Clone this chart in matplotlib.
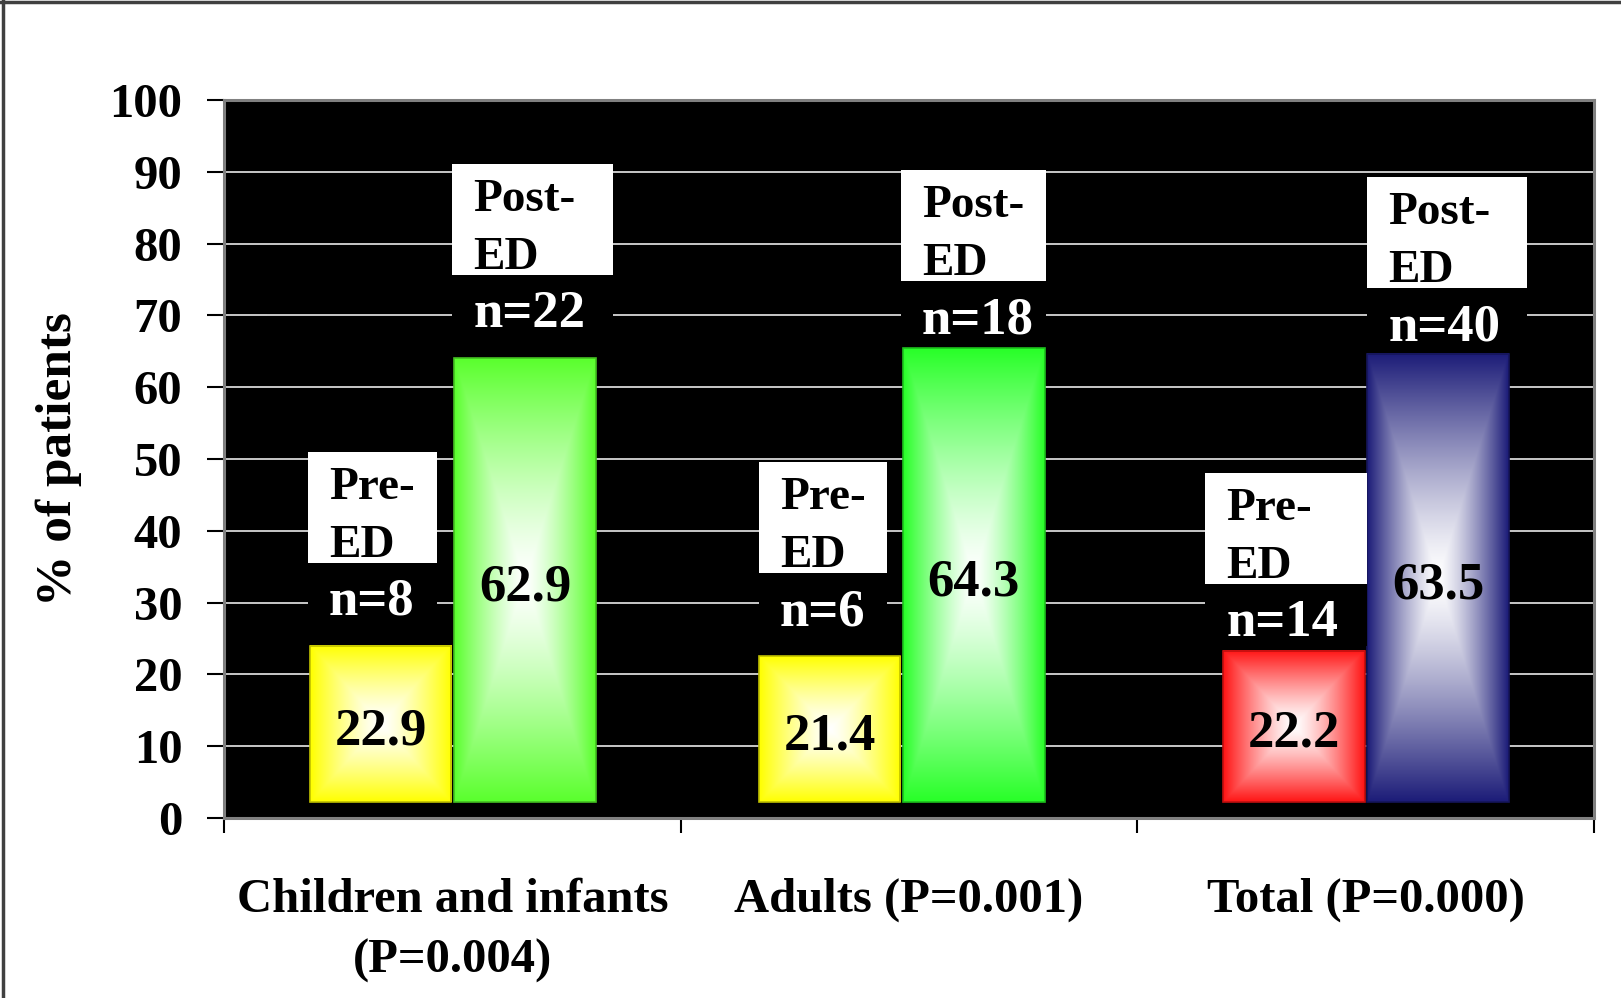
import numpy as np
import matplotlib
matplotlib.use("Agg")
import matplotlib.pyplot as plt
from matplotlib.patches import Rectangle
from matplotlib.lines import Line2D

# data
groups = ["Children and infants\n(P=0.004)", "Adults (P=0.001)", "Total (P=0.000)"]
pre_vals = [22.9, 21.4, 22.2]
post_vals = [62.9, 64.3, 63.5]
pre_n = [8, 6, 14]
post_n = [22, 18, 40]
y_ticks = [0, 10, 20, 30, 40, 50, 60, 70, 80, 90, 100]

# styles
pre_cols = [(255, 255, 0), (255, 255, 0), (255, 20, 20)]
post_cols = [(90, 255, 45), (40, 255, 40), (28, 28, 120)]
floor = 2.2
depth = 1.1
bar_w = 0.31
group_nudge = [0.0, -0.017, 0.0]
# label layout, px: lift of box above bar top, box left shift, box width
lift_pre = [83, 83, 67]
lift_post = [83, 67, 66]
shift_pre = [-2, 0, -18]
shift_post = [-2, -2, 0]
boxw_pre = [129, 128, 162]
boxw_post = [161, 145, 160]

plt.rcParams["font.family"] = ["Liberation Serif", "DejaVu Serif"]
plt.rcParams["font.weight"] = "bold"

fig = plt.figure(figsize=(16.21, 9.98), dpi=100)
ax = fig.add_axes([224 / 1621, 180 / 998, 1370 / 1621, 718 / 998])
ax.set_facecolor("black")
ax.set_xlim(0, 3)
ax.set_ylim(0, 100)

sx = 3 / ax.bbox.width
sy = 100 / ax.bbox.height


def gradient(rgb):
    u = np.linspace(-1, 1, 120)
    v = np.linspace(-1, 1, 360)
    U, V = np.meshgrid(u, v)
    t = np.maximum(np.abs(U), np.abs(V)) ** 1.3
    c = np.array(rgb) / 255.0
    img = (1 - t)[..., None] * 1.0 + t[..., None] * c
    return img


def draw_bar(x0, val, rgb):
    top = val + depth
    ax.imshow(gradient(rgb), extent=(x0, x0 + bar_w, floor, top), aspect="auto",
              interpolation="bilinear", zorder=2)
    edge = tuple(0.75 * np.array(rgb) / 255.0)
    ax.add_patch(Rectangle((x0, floor), bar_w, top - floor, fill=False,
                           edgecolor=edge, lw=1.2, zorder=3))
    ax.text(x0 + bar_w / 2, (floor + top) / 2 - 1.0, f"{val:.1f}", ha="center", va="center",
            fontsize=38, fontweight="bold", color="black", zorder=5)
    return top


def draw_label(x0, top, lift, shift, boxw, word, n):
    bl = x0 + shift * sx
    bb = top + lift * sy
    bt = bb + 111 * sy
    ax.add_patch(Rectangle((bl, bb - 62 * sy), boxw * sx, 62 * sy, facecolor="black",
                           edgecolor="none", zorder=4))
    ax.add_patch(Rectangle((bl, bb), boxw * sx, bt - bb, facecolor="white",
                           edgecolor="none", zorder=4))
    tx = bl + 21 * sx
    ax.text(tx, bt - 47 * sy, word + "-", ha="left", va="baseline", fontsize=34,
            color="black", zorder=5)
    ax.text(tx, bt - 105 * sy, "ED", ha="left", va="baseline", fontsize=34,
            color="black", zorder=5)
    ax.text(tx, bb - 52 * sy, f"n={n}", ha="left", va="baseline", fontsize=38,
            color="white", zorder=5)


for i in range(len(groups)):
    c = i + 0.5 + group_nudge[i]
    x_pre = c - 0.002 - bar_w
    x_post = c + 0.004
    t1 = draw_bar(x_pre, pre_vals[i], pre_cols[i])
    t2 = draw_bar(x_post, post_vals[i], post_cols[i])
    draw_label(x_pre, t1, lift_pre[i], shift_pre[i], boxw_pre[i], "Pre", pre_n[i])
    draw_label(x_post, t2, lift_post[i], shift_post[i], boxw_post[i], "Post", post_n[i])

ax.set_xlim(0, 3)
ax.set_ylim(0, 100)

# grid
ax.set_yticks(y_ticks)
ax.yaxis.grid(True, color="#c8c8c8", lw=1.4)
ax.set_axisbelow(True)
for s in ax.spines.values():
    s.set_color("#808080")
    s.set_linewidth(2.2)

ax.tick_params(axis="y", length=12, width=1.5, color="black", pad=18, labelsize=35)
ax.set_xticks([0, 1, 2, 3])
ax.set_xticklabels([])
ax.tick_params(axis="x", which="major", length=11, width=1.5, color="black")
ax.set_xticks([0.5, 1.5, 2.5], minor=True)
ax.set_xticklabels(groups, minor=True, fontsize=35, linespacing=1.5)
ax.tick_params(axis="x", which="minor", length=0, pad=43)
for lab in ax.get_yticklabels():
    lab.set_fontweight("bold")

ax.set_ylabel("% of patients", fontsize=37, fontweight="bold", labelpad=20)

# frame lines of the slide
fig.add_artist(Line2D([0.002, 0.002], [0, 1], transform=fig.transFigure, color="#404040", lw=2.5))
fig.add_artist(Line2D([0, 1], [0.998, 0.998], transform=fig.transFigure, color="#404040", lw=2.5))

fig.savefig("out.png", dpi=100, facecolor="white")
